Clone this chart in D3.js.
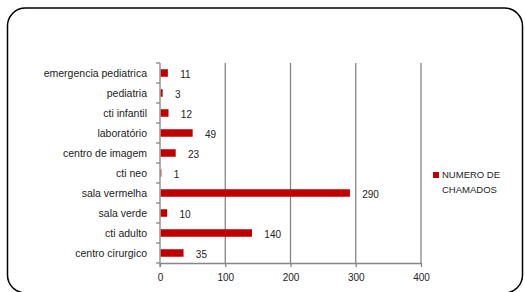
<!DOCTYPE html>
<html>
<head>
<meta charset="utf-8">
<script src="https://cdn.jsdelivr.net/npm/d3@7"></script>
<style>
  body { margin: 0; background: #fff; }
  svg { display: block; font-family: "Liberation Sans", Arial, sans-serif; }
</style>
</head>
<body>
<svg id="chart" width="525" height="292"></svg>
<script>
// top to bottom as in the picture
const categories = ["emergencia pediatrica", "pediatria", "cti infantil", "laboratório", "centro de imagem",
  "cti neo", "sala vermelha", "sala verde", "cti adulto", "centro cirurgico"];
const chamados = [11, 3, 12, 49, 23, 1, 290, 10, 140, 35];
const xTicks = [0, 100, 200, 300, 400];
const seriesName = ["NUMERO DE", "CHAMADOS"];

const svg = d3.select("#chart");
const barColor = "#c00000";
const axisColor = "#868686";

// frame with rounded corners
svg.append("rect")
  .attr("x", 7.5).attr("y", 8)
  .attr("width", 515).attr("height", 285)
  .attr("rx", 18).attr("ry", 18)
  .attr("fill", "none").attr("stroke", "#000").attr("stroke-width", 1.5);

const plotLeft = 160, plotRight = 421, plotTop = 63, plotBottom = 263;

const x = d3.scaleLinear().domain([0, 400]).range([plotLeft, plotRight]);
const y = d3.scaleBand().domain(categories).range([plotTop, plotBottom]);

// gridlines
svg.append("g").selectAll("line")
  .data(xTicks.slice(1))
  .join("line")
  .attr("x1", d => x(d)).attr("x2", d => x(d))
  .attr("y1", plotTop).attr("y2", plotBottom)
  .attr("stroke", axisColor).attr("stroke-width", 1.3);

// x axis
const xAxis = svg.append("g")
  .attr("transform", `translate(0,${plotBottom})`)
  .call(d3.axisBottom(x).tickValues(xTicks).tickSize(4).tickSizeOuter(0));
xAxis.select(".domain").attr("stroke", axisColor).attr("stroke-width", 1.3);
xAxis.selectAll(".tick line").attr("stroke", axisColor).attr("stroke-width", 1.3);
xAxis.selectAll(".tick text")
  .attr("y", 11)
  .attr("font-size", 10).attr("fill", "#222")
  .attr("font-family", "Liberation Sans, Arial, sans-serif");

// y axis: line + ticks at category boundaries
const yAxis = svg.append("g");
yAxis.append("line")
  .attr("x1", plotLeft).attr("x2", plotLeft)
  .attr("y1", plotTop).attr("y2", plotBottom + 4)
  .attr("stroke", axisColor).attr("stroke-width", 1.3);
yAxis.selectAll(".bt")
  .data(d3.range(categories.length + 1))
  .join("line")
  .attr("class", "bt")
  .attr("x1", plotLeft - 4).attr("x2", plotLeft)
  .attr("y1", i => plotTop + i * y.step()).attr("y2", i => plotTop + i * y.step())
  .attr("stroke", axisColor).attr("stroke-width", 1.3);
yAxis.selectAll("text")
  .data(categories)
  .join("text")
  .attr("x", plotLeft - 13)
  .attr("y", d => y(d) + y.bandwidth() / 2)
  .attr("dy", "0.35em")
  .attr("text-anchor", "end")
  .attr("font-size", 10.5).attr("fill", "#222")
  .text(d => d);

// bars
const barH = 7.5;
svg.append("g").selectAll("rect")
  .data(categories)
  .join("rect")
  .attr("x", x(0) + 0.7)
  .attr("y", d => y(d) + y.bandwidth() / 2 - barH / 2)
  .attr("width", (d, i) => Math.max(0, x(chamados[i]) - x(0)))
  .attr("height", barH)
  .attr("fill", barColor);

// value labels
svg.append("g").selectAll("text")
  .data(categories)
  .join("text")
  .attr("x", (d, i) => x(chamados[i]) + 13)
  .attr("y", d => y(d) + y.bandwidth() / 2 + 1)
  .attr("dy", "0.35em")
  .attr("font-size", 10).attr("fill", "#222")
  .text((d, i) => chamados[i]);

// legend
svg.append("rect")
  .attr("x", 433).attr("y", 172)
  .attr("width", 6).attr("height", 6)
  .attr("fill", barColor);
svg.append("g").selectAll("text")
  .data(seriesName)
  .join("text")
  .attr("x", 442)
  .attr("y", (d, i) => 175 + i * 14.5)
  .attr("dy", "0.35em")
  .attr("font-size", 9.5).attr("fill", "#222")
  .text(d => d);
</script>
</body>
</html>
